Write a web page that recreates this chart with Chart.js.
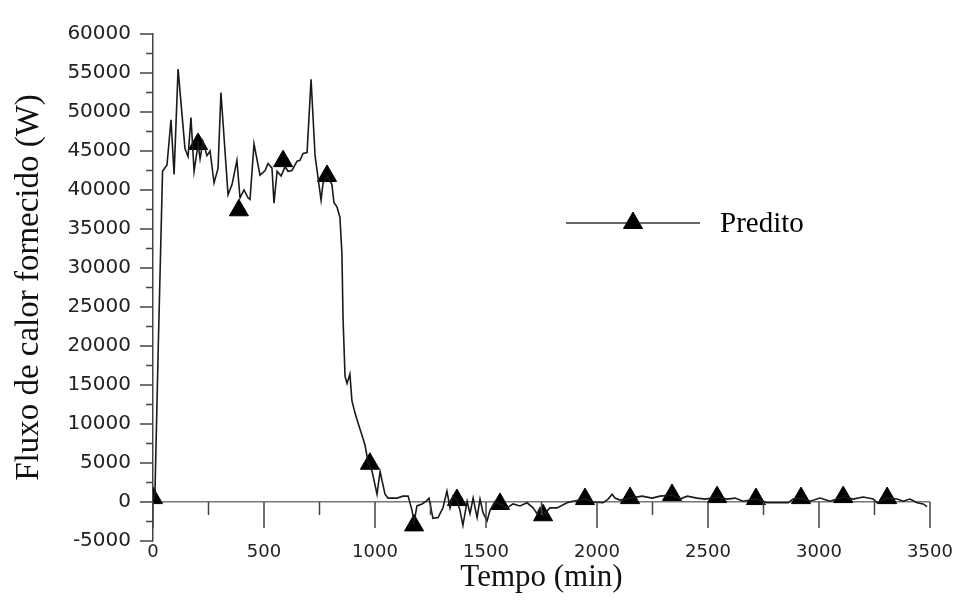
<!DOCTYPE html>
<html>
<head>
<meta charset="utf-8">
<script src="https://cdn.jsdelivr.net/npm/chart.js@4.4.1/dist/chart.umd.min.js"></script>
<style>
  html, body { margin: 0; padding: 0; background: #fff; }
  #wrap { width: 957px; height: 600px; }
</style>
</head>
<body>
<div id="wrap"><canvas id="fluxoChart" width="957" height="600"></canvas></div>
<script>
// Tempo (min) e fluxo de calor (W)
const timeMin = [0, 9, 23, 43, 63, 81, 95, 113, 144, 158, 171, 185, 203, 212, 225, 243, 257, 275, 293, 306,
  338, 356, 378, 392, 410, 428, 437, 455, 482, 505, 518, 536, 545, 559, 577, 595, 608, 626, 649, 662,
  676, 694, 712, 730, 757, 766, 784, 806, 815, 829, 842, 851, 856, 865, 874, 887, 896, 910, 923, 942,
  955, 969, 987, 1009, 1023, 1045, 1059, 1099, 1126, 1149, 1167, 1176, 1189, 1212, 1230, 1243, 1261, 1284, 1306, 1324,
  1338, 1351, 1369, 1383, 1396, 1415, 1428, 1442, 1460, 1473, 1487, 1505, 1518, 1541, 1563, 1595, 1622, 1653, 1685, 1712,
  1730, 1743, 1757, 1788, 1820, 1865, 1892, 1946, 1982, 2027, 2050, 2068, 2081, 2104, 2149, 2203, 2248, 2284, 2338, 2374,
  2406, 2451, 2487, 2541, 2586, 2622, 2658, 2716, 2766, 2811, 2861, 2883, 2919, 2960, 3005, 3050, 3108, 3154, 3199, 3244,
  3262, 3307, 3352, 3379, 3410, 3442, 3469, 3487];
const fluxo = [0, 1400, 19000, 42400, 43200, 49000, 42000, 55500, 45300, 44300, 49300, 42400, 45900, 44000, 46200, 44400, 45000, 40900, 42800, 52500,
  39400, 40700, 43800, 39000, 40000, 39000, 38800, 45900, 41900, 42500, 43400, 42800, 38300, 42400, 41800, 43000, 42400, 42500, 43700, 43800,
  44700, 44800, 54200, 44400, 38700, 40900, 41800, 40700, 38400, 37800, 36500, 31900, 23600, 16100, 15200, 16400, 13000, 11400, 10200, 8500,
  7300, 5100, 3900, 1000, 3900, 1000, 500, 500, 750, 750, -1100, -2600, -500, -250, 100, 500, -2100, -2000, -750, 1400,
  -750, 750, 250, -1100, -3000, 100, -1500, 500, -2000, 375, -1400, -2400, -1100, 100, -250, -750, -250, -500, -100, -750,
  -1500, -750, -1700, -750, -750, -100, 100, 375, 0, -100, 375, 1000, 500, 250, 500, 750, 500, 750, 900, 375,
  750, 500, 375, 630, 375, 500, 100, 375, -100, -100, -100, 375, 500, 100, 500, 100, 630, 375, 630, 375,
  -100, 500, 375, 100, 375, -100, -250, -600];

// Marcadores (triângulos) da série "Predito"
const predTime = [0, 203, 387, 586, 784, 977, 1176, 1369, 1563, 1757, 1946, 2149, 2338, 2541, 2716, 2919, 3109, 3307];
const predFluxo = [500, 45900, 37400, 43700, 41800, 4900, -3000, 250, -250, -1700, 375, 500, 900, 630, 375, 500, 630, 500];

const xTicks = [0, 500, 1000, 1500, 2000, 2500, 3000, 3500];
const yTicks = [-5000, 0, 5000, 10000, 15000, 20000, 25000, 30000, 35000, 40000, 45000, 50000, 55000, 60000];
const seriesLabel = 'Predito';

const AXIS = '#444';

// tick marks hanging from the zero line, minor ticks on the y axis, and the legend
const axisTicks = {
  id: 'axisTicks',
  afterDraw(chart) {
    const { ctx, scales: { x, y } } = chart;
    const y0 = y.getPixelForValue(0);
    ctx.save();
    ctx.strokeStyle = AXIS;
    ctx.lineWidth = 1.5;
    ctx.beginPath();
    xTicks.forEach((t, i) => {
      const px = x.getPixelForValue(t);
      ctx.moveTo(px, y0); ctx.lineTo(px, y0 + 26);
      if (i < xTicks.length - 1) {
        const pm = x.getPixelForValue((t + xTicks[i + 1]) / 2);
        ctx.moveTo(pm, y0); ctx.lineTo(pm, y0 + 13);
      }
    });
    yTicks.forEach((v, i) => {
      const py = y.getPixelForValue(v);
      ctx.moveTo(x.left - 13, py); ctx.lineTo(x.left, py);
      if (i < yTicks.length - 1) {
        const pm = y.getPixelForValue((v + yTicks[i + 1]) / 2);
        ctx.moveTo(x.left - 7, pm); ctx.lineTo(x.left, pm);
      }
    });
    ctx.stroke();

    // legenda
    const ly = 223;
    ctx.strokeStyle = '#666';
    ctx.lineWidth = 2;
    ctx.beginPath();
    ctx.moveTo(566, ly); ctx.lineTo(700, ly);
    ctx.stroke();
    ctx.fillStyle = '#000';
    ctx.strokeStyle = '#000';
    ctx.lineWidth = 1;
    Chart.helpers.drawPoint(ctx, { pointStyle: 'triangle', radius: 11, rotation: 0, borderWidth: 1 }, 633, ly);
    ctx.font = '29px "Liberation Serif"';
    ctx.textBaseline = 'middle';
    ctx.fillText(seriesLabel, 720, ly + 1);
    ctx.restore();
  }
};

const ctx = document.getElementById('fluxoChart').getContext('2d');

new Chart(ctx, {
  type: 'scatter',
  data: {
    datasets: [
      {
        label: seriesLabel,
        data: timeMin.map((t, i) => ({ x: t, y: fluxo[i] })),
        showLine: true,
        borderColor: '#1a1a1a',
        borderWidth: 1.6,
        pointRadius: 0,
        tension: 0
      },
      {
        label: seriesLabel + ' (marcadores)',
        data: predTime.map((t, i) => ({ x: t, y: predFluxo[i] })),
        showLine: false,
        pointStyle: 'triangle',
        pointRadius: 11,
        backgroundColor: '#000',
        borderColor: '#000',
        borderWidth: 1
      }
    ]
  },
  options: {
    responsive: false,
    animation: false,
    layout: { padding: { top: 23, right: 27, left: 10, bottom: 0 } },
    plugins: { legend: { display: false }, tooltip: { enabled: false } },
    scales: {
      x: {
        type: 'linear',
        min: 0,
        max: 3500,
        afterFit: s => { s.height = 59; },
        afterBuildTicks: s => { s.ticks = xTicks.map(v => ({ value: v })); },
        grid: { display: false },
        border: { display: false },
        ticks: {
          color: '#222',
          padding: -7,
          font: { family: 'DejaVu Sans', size: 18 },
          callback: v => String(v)
        },
        title: {
          display: true,
          text: 'Tempo (min)',
          color: '#111',
          padding: { top: 0, bottom: 4 },
          font: { family: 'Liberation Serif', size: 31 }
        }
      },
      y: {
        min: -5000,
        max: 60000,
        afterFit: s => { s.width = 143; },
        afterBuildTicks: s => { s.ticks = yTicks.map(v => ({ value: v })); },
        grid: {
          drawTicks: false,
          color: c => (c.tick && c.tick.value === 0 ? '#777' : 'rgba(0,0,0,0)'),
          lineWidth: 1.5
        },
        border: { display: true, color: AXIS, width: 1.5 },
        ticks: {
          color: '#222',
          padding: 22,
          font: { family: 'DejaVu Sans', size: 20 },
          callback: v => String(v)
        },
        title: {
          display: true,
          text: 'Fluxo de calor fornecido (W)',
          color: '#111',
          padding: 0,
          font: { family: 'Liberation Serif', size: 33 }
        }
      }
    }
  },
  plugins: [axisTicks]
});
</script>
</body>
</html>
